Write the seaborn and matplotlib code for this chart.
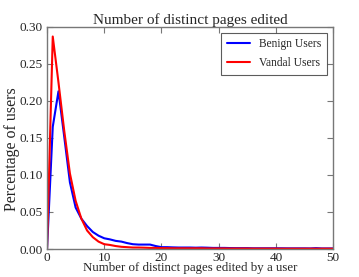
import matplotlib
matplotlib.use("Agg")
import matplotlib.pyplot as plt
import seaborn as sns
import pandas as pd

pages = list(range(0, 51))
benign = [0.0, 0.165, 0.213, 0.152, 0.090, 0.056, 0.041, 0.031, 0.023, 0.018,
          0.0145, 0.013, 0.011, 0.010, 0.008, 0.0065, 0.006, 0.006, 0.006, 0.004,
          0.0025, 0.0025, 0.0022, 0.002, 0.002, 0.002, 0.0018, 0.002, 0.0018, 0.0015,
          0.0015, 0.0015, 0.0013, 0.0012, 0.0012, 0.0012, 0.001, 0.001, 0.001, 0.001,
          0.001, 0.001, 0.0009, 0.0009, 0.0009, 0.0009, 0.0008, 0.0012, 0.0008, 0.0008, 0.0008]
vandal = [0.0, 0.287, 0.225, 0.160, 0.102, 0.065, 0.041, 0.025, 0.016, 0.010,
          0.0065, 0.0055, 0.004, 0.003, 0.0025, 0.002, 0.002, 0.0018, 0.0015, 0.0015,
          0.0012, 0.0012, 0.001, 0.001, 0.001, 0.001, 0.001, 0.001, 0.0008, 0.0008,
          0.0008, 0.0008, 0.0007, 0.0007, 0.0007, 0.0007, 0.0006, 0.0006, 0.0006, 0.0006,
          0.0006, 0.0005, 0.0005, 0.0005, 0.0005, 0.0005, 0.0005, 0.0005, 0.0005, 0.0005, 0.0005]
series_names = ["Benign Users", "Vandal Users"]
colors = ["#0000ff", "#ff0000"]

df = pd.concat([
    pd.DataFrame({"x": pages, "y": benign, "group": series_names[0]}),
    pd.DataFrame({"x": pages, "y": vandal, "group": series_names[1]}),
])

sns.set_style("ticks")
plt.rcParams["font.family"] = ["Liberation Serif", "DejaVu Serif"]
plt.rcParams["xtick.direction"] = "in"
plt.rcParams["ytick.direction"] = "in"

fig = plt.figure(figsize=(3.59, 2.77), dpi=100)
ax = fig.add_axes([0.131, 0.101, 0.797, 0.802])
sns.lineplot(data=df, x="x", y="y", hue="group", palette=colors, linewidth=1.5, ax=ax)

ax.set_xlim(0, 50)
ax.set_ylim(0, 0.30)
ax.set_xticks([0, 10, 20, 30, 40, 50])
ax.set_yticks([0.0, 0.05, 0.10, 0.15, 0.20, 0.25, 0.30])
ax.set_yticklabels([f"{v:.2f}" for v in [0.0, 0.05, 0.10, 0.15, 0.20, 0.25, 0.30]])
ax.tick_params(axis="both", which="both", direction="in", top=True, right=True,
               labelsize=9.5, length=4, width=0.8, color="#777777", pad=3)
ax.tick_params(axis="x", pad=2)
for s in ax.spines.values():
    s.set_color("#777777")
    s.set_linewidth(1.0)

ax.set_title("Number of distinct pages edited", fontsize=11, pad=2)
ax.set_xlabel("Number of distinct pages edited by a user", fontsize=9.3, labelpad=-1)
ax.set_ylabel("Percentage of users", fontsize=11.5)
ax.yaxis.set_label_coords(-0.094, 0.45)

leg = ax.legend(loc="upper right", fontsize=8.3, frameon=True, fancybox=False,
                borderaxespad=0.5, handlelength=2.0, labelspacing=0.6,
                borderpad=0.5, title=None)
leg.get_frame().set_edgecolor("#333333")
leg.get_frame().set_linewidth(0.8)

fig.savefig("out.png", dpi=100)
